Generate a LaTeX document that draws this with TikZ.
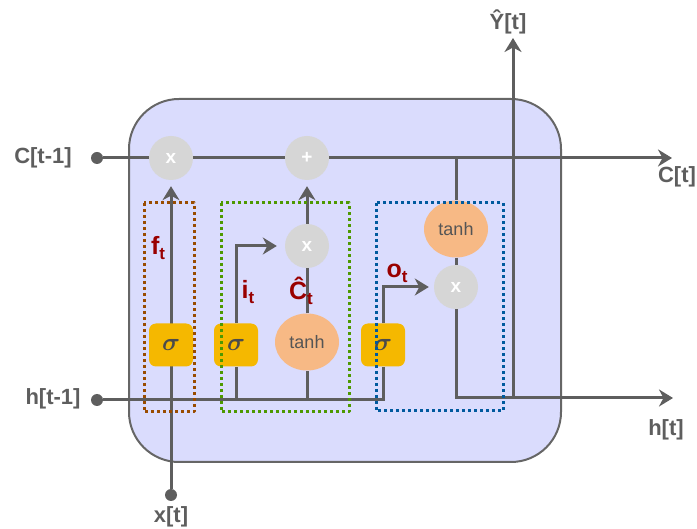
\documentclass[tikz,border=0pt]{standalone}
\usepackage{amsmath}
\usepackage{fontspec}
\setmainfont{Liberation Sans}
\usepackage{xcolor}
\usepackage{tikz}
\usetikzlibrary{arrows.meta,shapes.geometric,backgrounds}
\definecolor{cellfill}{HTML}{DADCFD}
\definecolor{wiregray}{HTML}{5E5E5E}
\definecolor{opgray}{HTML}{D6D6D6}
\definecolor{tanhorange}{HTML}{F7B985}
\definecolor{gateyellow}{HTML}{F5B800}
\definecolor{labelred}{HTML}{990000}
\definecolor{forgetbrown}{HTML}{994C00}
\definecolor{inputgreen}{HTML}{4D9900}
\definecolor{outputblue}{HTML}{005A9E}
\newcommand{\lowt}{\raisebox{-5pt}{\fontsize{17}{17}\selectfont t}}
\tikzset{
  every picture/.style={
    line join=round,
    >={Stealth[length=14pt,width=17pt,inset=4.5pt]},
  },
  wire/.style={draw=wiregray, line width=3pt},
  opnode/.style={circle, fill=opgray, minimum size=44pt, inner sep=0pt,
    text=white, font=\fontsize{19}{19}\selectfont\bfseries},
  actnode/.style={ellipse, fill=tanhorange, minimum width=64pt,
    minimum height=57pt, inner sep=0pt, text=wiregray!90!black,
    font=\fontsize{18}{18}\selectfont},
  gatenode/.style={rectangle, rounded corners=7pt, fill=gateyellow,
    minimum width=44pt, minimum height=43pt, inner sep=0pt,
    text=wiregray!80!black, font=\fontsize{30}{30}\selectfont},
  iodot/.style={circle, fill=wiregray, minimum size=12pt, inner sep=0pt},
  iolabel/.style={text=wiregray, font=\fontsize{22}{22}\selectfont\bfseries},
  gatelabel/.style={text=labelred, font=\fontsize{25}{25}\selectfont\bfseries},
  gatebox/.style={line width=3pt, dash pattern=on 3pt off 3pt},
}

\begin{document}
\begin{tikzpicture}[x=1pt,y=-1pt]
\useasboundingbox (0,0) rectangle (697,529);
% pointwise operations and activations
\node[opnode] (fmul) at (171,158) {x};
\node[opnode] (add) at (307,158) {+};
\node[opnode] (imul) at (307,246) {x};
\node[opnode] (omul) at (456,287) {x};
\node[actnode] (ctanh) at (307,342) {tanh};
\node[actnode] (htanh) at (456,229) {tanh};
\node[gatenode] (fgate) at (171,345) {$\boldsymbol{\sigma}$};
\node[gatenode] (igate) at (236,345) {$\boldsymbol{\sigma}$};
\node[gatenode] (ogate) at (383,345) {$\boldsymbol{\sigma}$};
% inputs and outputs
\node[iodot] (cprev) at (97,158) {};
\node[iodot] (hprev) at (97,400) {};
\node[iodot] (xin) at (171,495) {};
\coordinate (cnext) at (672,158);
\coordinate (hnext) at (673,398);
\coordinate (yout) at (513,38);
\node[iolabel] (cprevlabel) at (43,158) {C[t-1]};
\node[iolabel] (hprevlabel) at (53,399) {h[t-1]};
\node[iolabel] (xinlabel) at (171,517) {x[t]};
\node[iolabel] (cnextlabel) at (677,177) {C[t]};
\node[iolabel] (hnextlabel) at (666,430) {h[t]};
\node[iolabel] (youtlabel) at (508,22) {Ŷ[t]};
\node[gatelabel] (flabel) at (158,248) {f\lowt};
\node[gatelabel] (ilabel) at (248,292) {i\lowt};
\node[gatelabel] (clabel) at (301,291) {Ĉ\lowt};
\node[gatelabel] (olabel) at (397,273) {o\lowt};
% the cell and every wire sit behind the nodes
\begin{scope}[on background layer]
\draw[draw=wiregray!95, fill=cellfill, line width=2pt, rounded corners=50pt]
  (129,99) rectangle (561,462);
\draw[wire,->] (cprev) -- (cnext);
\draw[wire,->,shorten >=6pt] (xin) -- (fmul);
\draw[wire] (hprev) -- (ogate|-hprev) -- (ogate);
\draw[wire] (igate|-hprev) -- (igate);
\draw[wire,->,shorten >=8pt] (igate) |- (imul);
\draw[wire] (ctanh|-hprev) -- (ctanh) -- (imul);
\draw[wire,->,shorten >=6pt] (imul) -- (add);
\draw[wire,->,shorten >=5pt] (ogate) |- (omul);
\draw[wire] (htanh|-cprev) -- (htanh) -- (omul);
\draw[wire,->] (omul) |- (hnext);
\draw[wire,->] (yout|-hnext) -- (yout);
\end{scope}
% gate groups
\draw[gatebox, forgetbrown] (144,203) rectangle (194,412);
\draw[gatebox, inputgreen] (221,203) rectangle (349,412);
\draw[gatebox, outputblue] (376,203) rectangle (503,411);
\end{tikzpicture}
\end{document}
